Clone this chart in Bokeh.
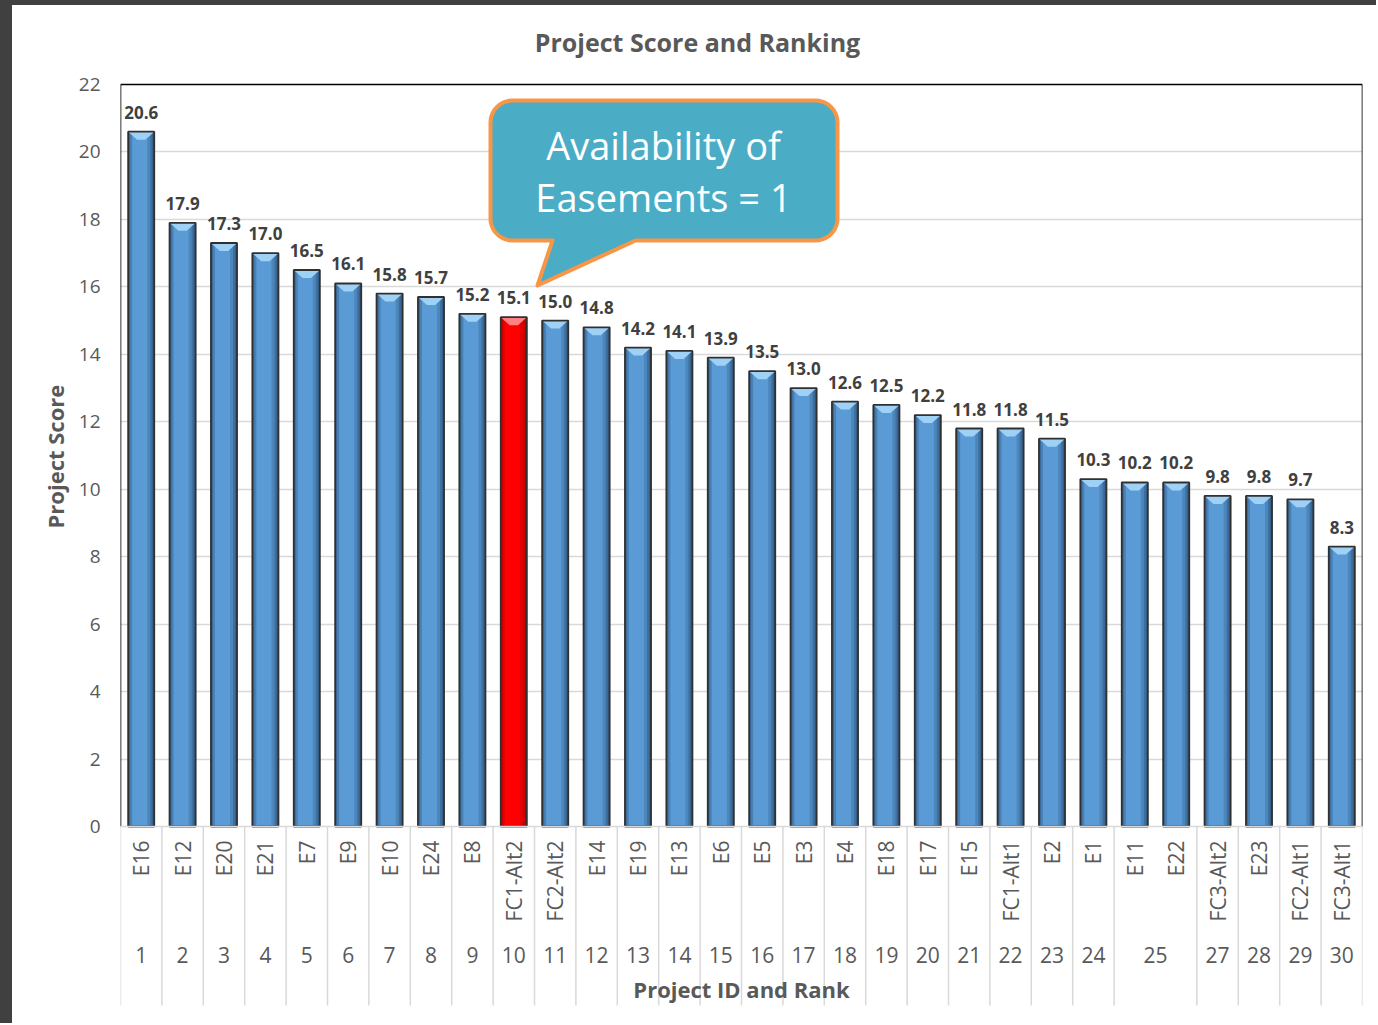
import math
from bokeh.plotting import figure
from bokeh.models import Range1d, FixedTicker, Title, ColumnDataSource, Div
from bokeh.layouts import column, row
from bokeh.core.properties import value
from bokeh.embed import file_html
from bokeh.resources import INLINE

# ---------------- data ----------------
project_ids = ["E16", "E12", "E20", "E21", "E7", "E9", "E10", "E24", "E8", "FC1-Alt2",
               "FC2-Alt2", "E14", "E19", "E13", "E6", "E5", "E3", "E4", "E18", "E17",
               "E15", "FC1-Alt1", "E2", "E1", "E11", "E22", "FC3-Alt2", "E23", "FC2-Alt1", "FC3-Alt1"]
scores = [20.6, 17.9, 17.3, 17.0, 16.5, 16.1, 15.8, 15.7, 15.2, 15.1,
          15.0, 14.8, 14.2, 14.1, 13.9, 13.5, 13.0, 12.6, 12.5, 12.2,
          11.8, 11.8, 11.5, 10.3, 10.2, 10.2, 9.8, 9.8, 9.7, 8.3]
ranks = [1, 2, 3, 4, 5, 6, 7, 8, 9, 10,
         11, 12, 13, 14, 15, 16, 17, 18, 19, 20,
         21, 22, 23, 24, 25, 25, 27, 28, 29, 30]
highlight_id = "FC1-Alt2"
y_ticks = [0, 2, 4, 6, 8, 10, 12, 14, 16, 18, 20, 22]
title_text = "Project Score and Ranking"
x_title = "Project ID and Rank"
y_title = "Project Score"
callout_lines = ["Availability of", "Easements = 1"]

# ---------------- geometry ----------------
STRIP_L, STRIP_T = 12, 5
W, H = 1364, 1018
ML, MR, MT, MB = 108, 14, 0, 13
FL = STRIP_L + ML             # frame left on the page
BOX_TOP = 84                  # page y of the score 22 line
BOX_BOTTOM = 826              # page y of the score 0 line
Y_MAX = 22.0
n = len(project_ids)
frame_w = W - ML - MR
frame_h = H - MT - MB
FRAME_TOP = STRIP_T + MT
FRAME_BOTTOM = FRAME_TOP + frame_h
sx = frame_w / n
sy = (BOX_BOTTOM - BOX_TOP) / Y_MAX


def dx(page_x):
    return (page_x - FL) / sx


def dy(page_y):
    return Y_MAX - (page_y - BOX_TOP) / sy


FONT = value("Open Sans")
GRAY = "#595959"

p = figure(width=W, height=H, output_backend="svg", toolbar_location=None,
           x_range=Range1d(0, n), y_range=Range1d(dy(FRAME_BOTTOM), dy(FRAME_TOP)),
           x_axis_location=None, min_border_left=ML, min_border_right=MR,
           min_border_top=MT, min_border_bottom=MB)
p.title.text = ""
p.title.visible = False
p.outline_line_color = None
p.background_fill_color = "white"
p.border_fill_color = "white"
p.xgrid.visible = False
p.ygrid.ticker = FixedTicker(ticks=y_ticks[1:-1])
p.ygrid.grid_line_color = "#d9d9d9"
p.ygrid.grid_line_width = 1.5

ax = p.yaxis[0]
ax.ticker = FixedTicker(ticks=y_ticks)
ax.axis_line_color = None
ax.major_tick_line_color = None
ax.major_tick_out = 0
ax.major_tick_in = 0
ax.minor_tick_line_color = None
ax.major_label_text_font = "Open Sans"
ax.major_label_text_font_size = "19px"
ax.major_label_text_color = GRAY
ax.major_label_standoff = 20

# y axis title
p.add_layout(Title(text=y_title, align="left", offset=FRAME_BOTTOM - 528, standoff=12,
                   text_font="Open Sans", text_font_size="22px", text_font_style="bold",
                   text_color=GRAY), "left")

# chart title
p.text(x=[dx(697)], y=[dy(41)], text=[title_text], text_align="center",
       text_baseline="middle", text_font=FONT, text_font_size="25px",
       text_font_style="bold", text_color=GRAY)

# ---------------- bars ----------------
xs = [i + 0.5 for i in range(n)]
bw = 0.63
px = 1 / sx
is_hi = [pid == highlight_id for pid in project_ids]
fill = ["#ff0000" if h else "#5b9bd5" for h in is_hi]
shade = ["#9a0000" if h else "#22476e" for h in is_hi]
bevel = ["#ff8080" if h else "#9fd0f5" for h in is_hi]
zeros = [0] * n

src = ColumnDataSource(dict(x=xs, top=scores, fill=fill,
                            lbl=["%.1f" % s for s in scores], pid=project_ids))
p.vbar(x="x", top="top", bottom=0, width=bw, source=src,
       fill_color="fill", line_color=None)
for (a, alpha) in [(7, 0.25), (4, 0.35), (2, 0.4)]:
    p.quad(left=[x + bw / 2 - a * px for x in xs], right=[x + bw / 2 for x in xs],
           top=scores, bottom=zeros, fill_color=shade, fill_alpha=alpha, line_color=None)
for (a, alpha) in [(4, 0.3), (2, 0.4)]:
    p.quad(left=[x - bw / 2 for x in xs], right=[x - bw / 2 + a * px for x in xs],
           top=scores, bottom=zeros, fill_color=shade, fill_alpha=alpha, line_color=None)
bev_d = 8 / sy
p.patches(xs=[[x - bw / 2, x + bw / 2, x + 0.1, x - 0.1] for x in xs],
          ys=[[s, s, s - bev_d, s - bev_d] for s in scores],
          fill_color=bevel, line_color=None)
p.vbar(x="x", top="top", bottom=0, width=bw, source=src,
       fill_color=None, line_color="#303030", line_width=1.8)

# value labels
p.text(x="x", y="top", text="lbl", source=src, text_align="center",
       text_baseline="bottom", y_offset=-13, text_font=FONT,
       text_font_size="17px", text_font_style="bold", text_color="#404040")

# ---------------- plot box ----------------
p.multi_line(xs=[[0, n], [0, 0], [n, n]], ys=[[Y_MAX, Y_MAX], [0, Y_MAX], [0, Y_MAX]],
             line_color="black", line_width=1.6)
p.line(x=[0, n], y=[0, 0], line_color="#d9d9d9", line_width=1.5)

# ---------------- category axis ----------------
p.text(x="x", y=dy(840), text="pid", source=src, angle=math.pi / 2,
       text_align="right", text_baseline="middle", text_font=FONT,
       text_font_size="21px", text_color=GRAY)

groups = []
for i, r in enumerate(ranks):
    if groups and groups[-1][0] == r:
        groups[-1][1].append(i)
    else:
        groups.append((r, [i]))
rank_x = [sum(idx) / len(idx) + 0.5 for _, idx in groups]
rank_t = [str(r) for r, _ in groups]
p.text(x=rank_x, y=[dy(954)] * len(rank_x), text=rank_t, text_align="center",
       text_baseline="middle", text_font=FONT, text_font_size="21px", text_color=GRAY)

bounds = [0] + [i for i in range(1, n) if ranks[i] != ranks[i - 1]] + [n]
p.segment(x0=bounds, x1=bounds, y0=[0] * len(bounds), y1=[dy(1005)] * len(bounds),
          line_color="#d9d9d9", line_width=1.5)

p.text(x=[n / 2], y=[dy(988)], text=[x_title], text_align="center",
       text_baseline="middle", text_font=FONT, text_font_size="22px",
       text_font_style="bold", text_color=GRAY)

# ---------------- callout ----------------
l, t, r, b, rad = 490, 100, 837, 240, 22
tail_l, tail_r, tip = 552, 635, (537, 285)
pts = []


def arc(cx, cy, a0, a1, steps=10):
    for k in range(steps + 1):
        a = math.radians(a0 + (a1 - a0) * k / steps)
        pts.append((cx + rad * math.cos(a), cy + rad * math.sin(a)))


arc(l + rad, t + rad, 180, 270)
arc(r - rad, t + rad, 270, 360)
arc(r - rad, b - rad, 0, 90)
pts.append((tail_r, b))
pts.append(tip)
pts.append((tail_l, b))
arc(l + rad, b - rad, 90, 180)
p.patch(x=[dx(q[0]) for q in pts], y=[dy(q[1]) for q in pts],
        fill_color="#4bacc6", line_color="#f79646", line_width=4, line_join="round")
p.text(x=[dx(663)] * 2, y=[dy(144), dy(196)], text=callout_lines, text_align="center",
       text_baseline="middle", text_font=FONT, text_font_size="38px", text_color="white")

# dark window frame strips (left and top) as in the screenshot
top_strip = Div(text="", width=STRIP_L + W, height=STRIP_T, margin=0,
                styles={"background-color": "#404040"})
left_strip = Div(text="", width=STRIP_L, height=H, margin=0,
                 styles={"background-color": "#404040"})
layout = column(top_strip, row(left_strip, p, spacing=0), spacing=0)

open("out.html", "w").write(file_html(layout, INLINE))
